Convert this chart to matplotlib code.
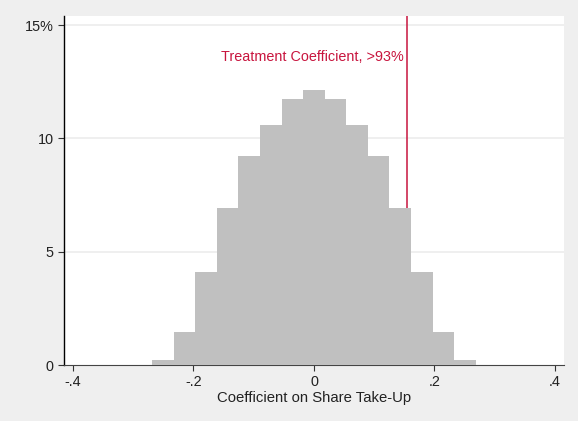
import numpy as np
import matplotlib.pyplot as plt

plt.rcParams['font.family'] = ['Liberation Sans', 'DejaVu Sans']

# placebo distribution of the coefficient, percent of draws per bin
bin_width = 0.0358
bin_index = [-7, -6, -5, -4, -3, -2, -1, 0, 1, 2, 3, 4, 5, 6, 7]
percent = [0.2, 1.46, 4.09, 6.91, 9.21, 10.59, 11.72, 12.12,
           11.72, 10.59, 9.21, 6.91, 4.09, 1.46, 0.2]
treatment_coef = 0.154
treatment_label = 'Treatment Coefficient, >93%'

x_ticks = [-0.4, -0.2, 0, 0.2, 0.4]
x_ticklabels = ['-.4', '-.2', '0', '.2', '.4']
y_ticks = [0, 5, 10, 15]
y_ticklabels = ['0', '5', '10', '15%']

red = '#c8153e'

fig = plt.figure(figsize=(5.78, 4.21), dpi=100, facecolor='#efefef')
ax = fig.add_axes([0.1107, 0.133, 0.865, 0.829])
ax.set_facecolor('white')

centers = np.array(bin_index) * bin_width
ax.bar(centers, percent, width=bin_width, color='#c0c0c0', linewidth=0, zorder=3)

ax.axvline(treatment_coef, color=red, lw=1.1, zorder=2)
ax.text(treatment_coef - 0.005, 13.58, treatment_label, color=red,
        ha='right', va='center', fontsize=10.4)

ax.set_xlim(-0.415, 0.415)
ax.set_ylim(0, 15.4)
ax.set_xticks(x_ticks)
ax.set_xticklabels(x_ticklabels)
ax.set_yticks(y_ticks)
ax.set_yticklabels(y_ticklabels)
ax.tick_params(labelsize=10.4, colors='#333333', length=4, width=0.8,
               labelcolor='#222222')

for y in y_ticks[1:]:
    ax.axhline(y, color='#ececec', lw=1.2, zorder=1)

for side in ['top', 'right']:
    ax.spines[side].set_visible(False)
ax.spines['left'].set_color('black')
ax.spines['left'].set_linewidth(1.0)
ax.spines['bottom'].set_color('#444444')
ax.spines['bottom'].set_linewidth(0.8)

ax.set_xlabel('Coefficient on Share Take-Up', fontsize=10.7, color='#222222', labelpad=1)

fig.savefig('out.png', dpi=100, facecolor=fig.get_facecolor())
